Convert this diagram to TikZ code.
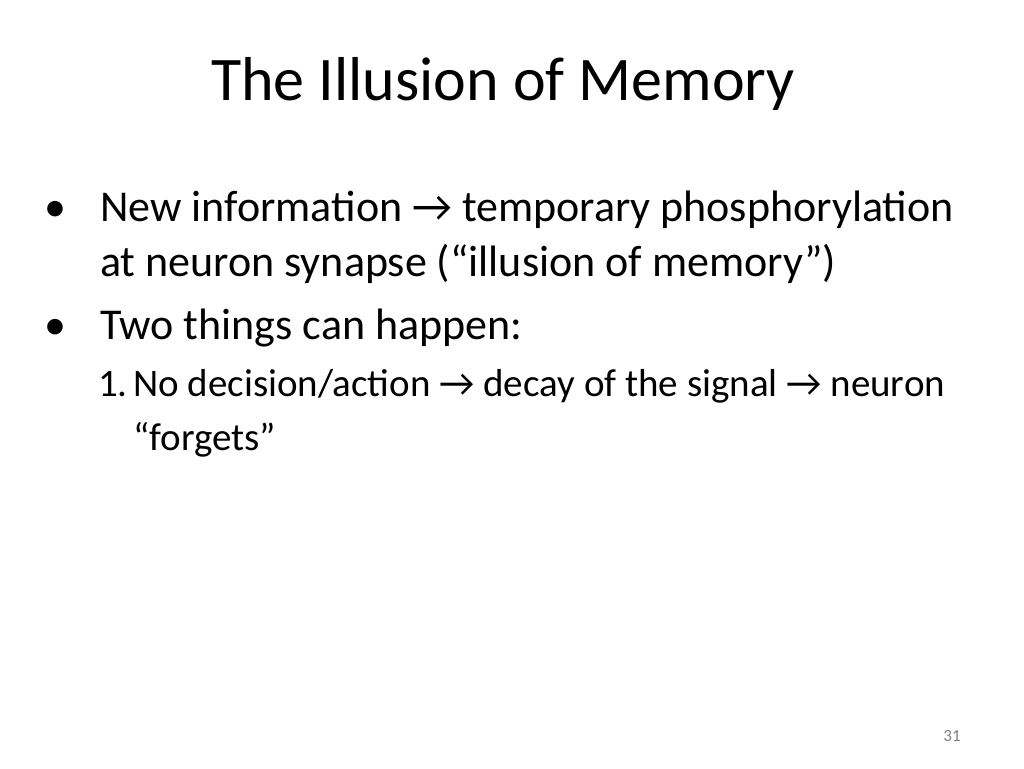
\documentclass[tikz,border=0pt]{standalone}
\usepackage{fontspec}
\setmainfont{Carlito}
\begin{document}
\begin{tikzpicture}[x=1pt,y=-1pt,
  every node/.style={inner sep=0pt,anchor=base west},
  title/.style={font=\fontsize{62}{70}\selectfont,anchor=base},
  body/.style={font=\fontsize{44}{52}\selectfont},
  sub/.style={font=\fontsize{39}{46}\selectfont}]
\useasboundingbox[fill=white] (0,0) rectangle (1024,768);
\node[title] (title) at (503,100) {The Illusion of Memory};
% first bullet
\node[body] (b1) at (44,221) {\textbullet};
\node[body] (t1) at (100,221) {New information → temporary phosphorylation};
\node[body] (t1b) at (100,276) {at neuron synapse (“illusion of memory”)};
% second bullet
\node[body] (b2) at (44,339) {\textbullet};
\node[body] (t2) at (100,339) {Two things can happen:};
% numbered item
\node[sub] (n1) at (98,396) {1.};
\node[sub] (s1) at (133,396) {No decision/action → decay of the signal → neuron};
\node[sub] (s1b) at (133,450) {“forgets”};
\node[font=\fontsize{17}{20}\selectfont,text=gray,anchor=base] (page) at (952,741) {31};
\end{tikzpicture}
\end{document}
